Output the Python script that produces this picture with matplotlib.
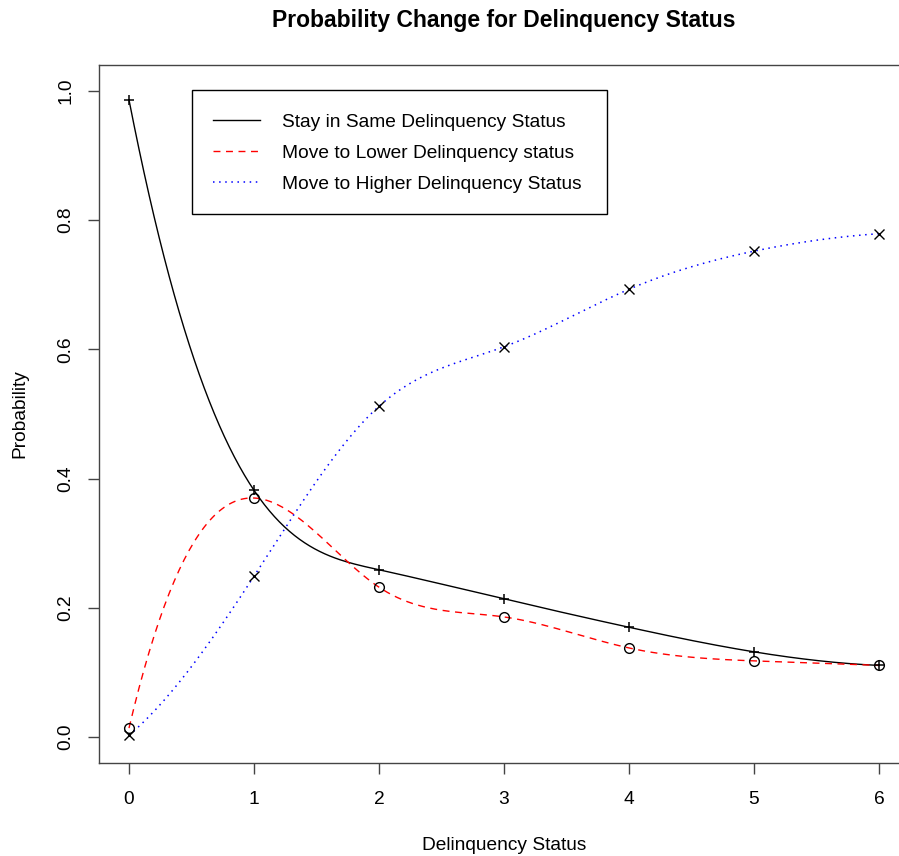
import numpy as np
import matplotlib
matplotlib.use('Agg')
import matplotlib.pyplot as plt
from matplotlib.patches import Rectangle

# delinquency status on the x axis
status = [0, 1, 2, 3, 4, 5, 6]
# probabilities
p_stay = [0.986, 0.382, 0.259, 0.214, 0.170, 0.132, 0.111]
p_lower = [0.014, 0.370, 0.232, 0.186, 0.138, 0.118, 0.111]
p_higher = [0.003, 0.249, 0.512, 0.604, 0.693, 0.752, 0.779]

labels = ['Stay in Same Delinquency Status',
          'Move to Lower Delinquency status',
          'Move to Higher Delinquency Status']


def fmm_spline(x, y, n=300):
    '''cubic interpolating spline with fmm end conditions (like R spline())'''
    x = np.asarray(x, float)
    y = np.asarray(y, float)
    k = len(x)
    h = np.diff(x)
    d = np.diff(y) / h
    A = np.zeros((k, k))
    b = np.zeros(k)
    for i in range(1, k - 1):
        A[i, i - 1] = h[i - 1]
        A[i, i] = 2 * (h[i - 1] + h[i])
        A[i, i + 1] = h[i]
        b[i] = 6 * (d[i] - d[i - 1])

    def ddd(xs, ys):
        # third divided difference
        f = list(ys)
        for lev in range(1, 4):
            f = [(f[j + 1] - f[j]) / (xs[j + lev] - xs[j]) for j in range(len(f) - 1)]
        return f[0]

    A[0, 0] = -1 / h[0]
    A[0, 1] = 1 / h[0]
    b[0] = 6 * ddd(x[:4], y[:4])
    A[-1, -2] = -1 / h[-1]
    A[-1, -1] = 1 / h[-1]
    b[-1] = 6 * ddd(x[-4:], y[-4:])
    M = np.linalg.solve(A, b)

    xs = np.linspace(x[0], x[-1], n)
    idx = np.clip(np.searchsorted(x, xs) - 1, 0, k - 2)
    x0, x1 = x[idx], x[idx + 1]
    hh = x1 - x0
    t0 = x1 - xs
    t1 = xs - x0
    ys = (M[idx] * t0 ** 3 + M[idx + 1] * t1 ** 3) / (6 * hh) \
        + (y[idx] / hh - M[idx] * hh / 6) * t0 \
        + (y[idx + 1] / hh - M[idx + 1] * hh / 6) * t1
    return xs, ys


plt.rcParams['font.family'] = ['Liberation Sans', 'DejaVu Sans']
fs = 13.8

fig = plt.figure(figsize=(8.99, 8.56), dpi=100)
ax = fig.add_axes([99 / 899, 93 / 856, 810 / 899, 698 / 856])

xs, ys = fmm_spline(status, p_stay)
ax.plot(xs, ys, color='black', lw=1.0, label=labels[0])
xs, ys = fmm_spline(status, p_lower)
ax.plot(xs, ys, color='red', lw=1.0, dashes=(5, 4), label=labels[1])
xs, ys = fmm_spline(status, p_higher)
ax.plot(xs, ys, color='blue', lw=1.1, dashes=(1, 3), label=labels[2])

ax.plot(status, p_stay, ls='none', marker='+', ms=7.5, mew=1.1, color='black')
ax.plot(status, p_lower, ls='none', marker='o', ms=7, mew=1.0, mfc='none', color='black')
ax.plot(status, p_higher, ls='none', marker='x', ms=6.5, mew=1.0, color='black')

ax.set_xlim(-0.24, 6.24)
ax.set_ylim(-0.04, 1.04)
ax.set_xticks(status)
ax.set_yticks([0.0, 0.2, 0.4, 0.6, 0.8, 1.0])
ax.set_yticklabels(['0.0', '0.2', '0.4', '0.6', '0.8', '1.0'], rotation=90, va='center')
ax.tick_params(direction='out', length=8, width=1, labelsize=fs, pad=12, color='#444444')
ax.tick_params(axis='y', pad=9.5)
for s in ax.spines.values():
    s.set_color('#444444')
    s.set_linewidth(1)

ax.set_xlabel('Delinquency Status', fontsize=fs, labelpad=21)
ax.set_ylabel('Probability', fontsize=fs, labelpad=21)
ax.set_title('Probability Change for Delinquency Status', fontsize=16.5,
             fontweight='bold', pad=27)


def to_ax(px, py):
    return (px - 99) / 810, (763 - py) / 698


# legend box, R style with extra room around the entries
x0, y0 = to_ax(192, 214)
x1, y1 = to_ax(607, 90)
ax.add_patch(Rectangle((x0, y0), x1 - x0, y1 - y0, transform=ax.transAxes,
                       facecolor='white', edgecolor='black', lw=1, zorder=4))
leg = ax.legend(loc='center left', bbox_to_anchor=to_ax(213, 153),
                borderaxespad=0, frameon=False, fontsize=fs,
                handlelength=2.45, handletextpad=1.15, labelspacing=0.71,
                borderpad=0)
leg.set_zorder(5)

fig.savefig('out.png', dpi=100)
